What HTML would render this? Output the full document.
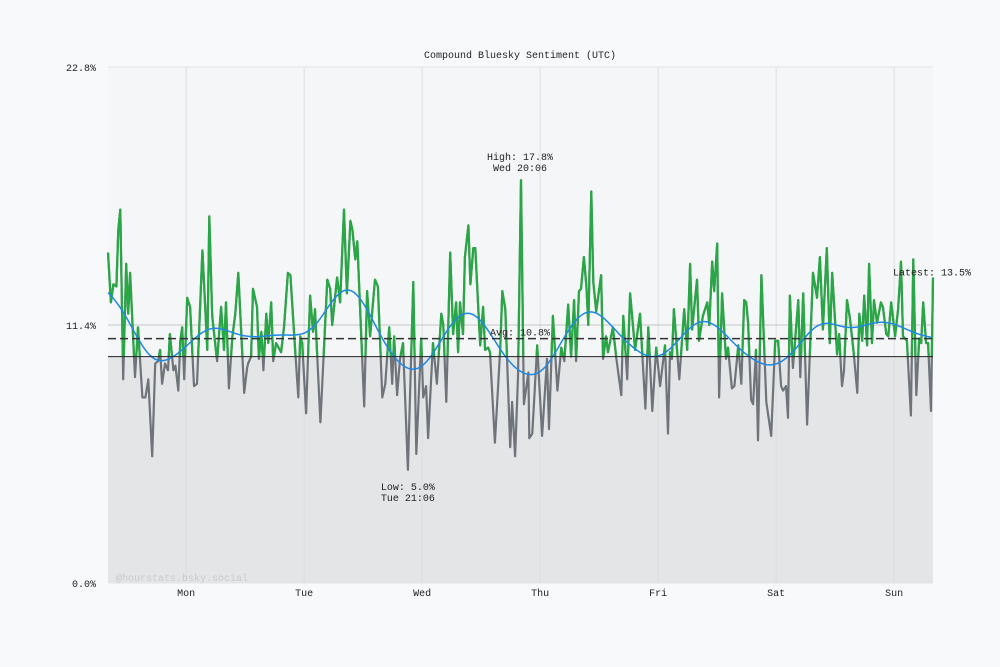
<!DOCTYPE html>
<html><head><meta charset="utf-8">
<style>
html,body{margin:0;padding:0;background:#f8f9fa;}
svg{display:block;font-family:"Liberation Mono",monospace;}
</style></head>
<body>
<svg id="chart" width="1000" height="667" viewBox="0 0 1000 667" xmlns="http://www.w3.org/2000/svg">
<rect x="0" y="0" width="1000" height="667" fill="#f8f9fa"/>
<text x="520" y="58" text-anchor="middle" font-size="10" fill="#222">Compound Bluesky Sentiment (UTC)</text>
<g id="grid"></g>
<g id="marks"></g>
<g id="annot"></g>
</svg>
<script>
// time in hours since Mon 00:00 UTC, value in %
const times = [-15.9,-15.3,-14.8,-14.2,-13.8,-13.4,-12.8,-12.2,-11.8,-11.4,-10.4,-9.8,-8.9,-8.3,-7.7,-6.9,-6.3,-5.7,-5.3,-4.9,-4.3,-3.7,-3.3,-2.6,-2.2,-1.6,-1.2,-0.8,-0.4,0.2,0.8,1.6,2.2,3.3,4.3,4.7,5.3,6.3,7.1,7.7,8.1,8.7,9.4,10.0,10.6,11.8,12.4,
12.6,13.2,13.6,14.4,14.8,15.3,15.7,16.3,16.7,17.3,17.7,18.3,19.3,19.9,20.7,21.2,22.2,22.8,23.2,23.6,24.4,25.2,25.8,26.2,27.3,28.7,29.3,29.7,30.7,31.3,32.1,32.7,33.4,33.8,34.4,34.8,36.2,36.8,37.4,38.4,39.0,39.9,40.5,41.3,
41.9,42.3,42.9,43.5,44.1,45.1,46.2,46.8,47.8,48.2,48.8,49.2,50.2,51.0,51.9,52.3,52.9,53.7,54.3,54.9,55.3,55.7,56.3,56.7,57.4,57.8,58.4,58.8,59.4,59.8,60.4,60.8,61.4,61.8,62.8,63.9,64.3,64.9,65.9,66.3,66.9,67.5,68.1,68.7,69.6,
69.8,70.4,71.4,72.4,73.4,73.8,74.6,75.5,76.3,76.9,77.7,78.3,78.9,79.3,79.9,80.3,80.9,81.4,81.8,82.4,82.8,83.4,84.4,84.8,85.4,85.8,86.8,87.5,88.5,88.9,89.7,90.3,91.3,92.3,93.4,94.0,94.8,95.6,96.4,97.4,98.0,
98.4,98.8,99.2,100.3,101.3,101.9,102.5,102.9,103.9,104.3,105.1,106.0,106.4,107.0,107.4,108.0,108.4,109.0,109.8,110.2,111.0,111.5,112.3,112.9,113.5,113.9,114.3,114.9,115.3,115.9,116.3,117.0,118.0,119.0,119.8,120.4,121.0,121.4,122.0,122.4,122.8,123.4,124.5,124.9,125.5,
126.3,127.5,128.3,128.9,129.5,130.3,130.9,131.4,132.4,132.8,133.4,133.8,134.4,135.0,135.7,136.5,136.9,137.5,137.9,138.5,138.9,139.5,139.9,140.5,141.3,141.7,142.4,142.8,143.4,144.2,144.8,145.4,145.8,146.6,147.4,147.9,148.5,149.1,149.5,149.9,150.5,150.9,151.5,151.9];
const values = [14.6,12.4,13.2,13.1,15.6,16.5,9.0,14.1,11.9,13.7,9.1,11.3,8.2,8.2,9.0,5.6,9.7,9.8,10.3,8.8,9.7,9.4,11.0,9.4,9.6,8.5,10.7,11.3,9.0,12.6,12.2,8.7,8.8,14.7,10.3,16.2,11.8,9.8,12.2,10.3,12.4,8.6,10.9,11.9,13.7,8.4,9.5,
9.7,10.0,13.0,12.2,9.9,11.1,9.4,11.9,10.6,12.4,9.8,10.6,10.2,11.3,13.7,13.6,10.2,8.2,10.9,10.6,7.5,12.7,11.1,12.1,7.1,13.4,13.0,11.4,13.5,12.4,16.5,12.8,16.0,15.6,14.3,15.1,7.8,12.9,10.9,13.4,13.1,8.2,8.8,11.3,
8.8,10.9,8.3,9.9,10.6,5.0,13.3,5.7,10.8,8.2,8.7,6.4,10.6,8.8,11.9,11.4,8.0,14.6,11.0,12.4,10.2,12.4,11.0,14.4,15.8,13.2,14.8,14.8,12.2,10.5,12.2,10.3,10.4,10.2,6.2,10.4,12.9,12.1,6.0,8.0,5.6,9.1,17.8,7.9,9.3,
6.4,6.6,10.5,6.5,9.9,6.8,11.8,8.5,10.4,9.8,12.3,10.0,12.5,9.8,12.9,13.0,14.4,13.1,11.4,17.3,13.3,12.0,13.6,9.9,10.9,10.2,11.3,9.9,8.3,11.8,9.0,12.8,10.3,11.9,7.7,11.3,7.6,10.4,8.7,10.5,6.6,
10.2,9.9,12.1,9.0,12.1,10.3,14.1,11.2,13.4,10.7,11.8,12.4,11.4,14.2,12.9,15.0,8.2,12.8,9.9,10.4,8.6,8.7,10.5,8.8,12.5,12.4,11.5,8.1,7.9,10.3,6.3,13.6,8.0,6.5,10.7,10.7,8.7,8.5,8.7,7.3,12.7,9.5,12.5,9.1,12.8,
7.0,13.7,12.6,14.4,11.2,14.8,10.6,13.7,10.1,11.0,8.7,9.4,12.5,11.7,10.3,8.4,11.9,10.7,12.7,10.5,14.1,10.6,12.5,11.5,12.4,12.2,11.0,10.9,12.4,10.9,12.1,14.2,10.9,10.7,7.4,14.3,8.3,10.8,10.6,12.4,10.6,10.6,7.6,13.5];
const dayLabels = ["Mon","Tue","Wed","Thu","Fri","Sat","Sun"];
const yTicks = [0, 11.4, 22.8];
const yTickLabels = ["0.0%","11.4%","22.8%"];
const avgValue = 10.8;
const baseline = 10.0;
const highValue = 17.8, highTime = 68.1, highLabel = "Wed 20:06";
const lowValue = 5.0, lowTime = 45.1, lowLabel = "Tue 21:06";
const latestValue = 13.5;

const X0=108, X1=933, Y0=583, Y1=67;
const tMin=-15.9, tMax=151.9, vMax=22.8;
const xs = t => X0 + (t - tMin) / (tMax - tMin) * (X1 - X0);
const ys = v => Y0 - v / vMax * (Y0 - Y1);
const NS="http://www.w3.org/2000/svg";
function mk(tag, attrs, parent){const e=document.createElementNS(NS,tag);for(const k in attrs)e.setAttribute(k,attrs[k]);parent.appendChild(e);return e;}
const grid=document.getElementById('grid'), marks=document.getElementById('marks'), annot=document.getElementById('annot');

let r=mk('rect',{x:X0,y:Y1,width:X1-X0,height:Y0-Y1,fill:'#f5f6f8'},grid);


let f=mk('rect',{x:X0,y:ys(baseline),width:X1-X0,height:Y0-ys(baseline),fill:'#e4e5e7'},grid);



dayLabels.forEach((d,i)=>{
  const x=xs(i*24);
  const l=mk('line',{x1:x,x2:x,y1:Y1,y2:Y0,stroke:'#dcdde0','stroke-width':1},grid);
  
  
  const t=mk('text',{x:x,y:Y0+13,'text-anchor':'middle','font-size':10,fill:'#222'},grid);
  t.textContent=d;
  
  
});
yTicks.forEach((v,i)=>{
  const y=ys(v);
  const l=mk('line',{x1:X0,x2:X1,y1:y,y2:y,stroke:i==1?'#c4c5c8':'#e2e3e6','stroke-width':1},grid);
  
  
  const t=mk('text',{x:96,y:y+4,'text-anchor':'end','font-size':10,fill:'#222'},grid);
  t.textContent=yTickLabels[i];
  
  
});
const wm=mk('text',{x:116,y:Y0-2,'font-size':10,fill:'#c9cacd'},grid);
wm.textContent='@hourstats.bsky.social';



const defs=mk('defs',{},marks);
const cpA=mk('clipPath',{id:'above'},defs); mk('rect',{x:0,y:0,width:1000,height:ys(baseline)},cpA);
const pts=times.map((t,i)=>xs(t).toFixed(1)+','+ys(values[i]).toFixed(1)).join(' ');
const gl=mk('polyline',{points:pts,fill:'none',stroke:'#6f747b','stroke-width':2.2,'stroke-linejoin':'round'},marks);


const gr=mk('polyline',{points:pts,fill:'none',stroke:'#28a745','stroke-width':2.2,'stroke-linejoin':'round','clip-path':'url(#above)'},marks);



const sm=[];
for(let t=tMin;t<=tMax+0.001;t+=0.5){
  let sw=0,s=0;
  for(let i=0;i<times.length;i++){const d=(times[i]-t)/4;const w=Math.exp(-0.5*d*d);sw+=w;s+=w*values[i];}
  sm.push(xs(t).toFixed(1)+','+ys(s/sw).toFixed(1));
}
const tr=mk('polyline',{points:sm.join(' '),fill:'none',stroke:'#1e88e5','stroke-width':1.5},marks);



const al=mk('line',{x1:X0,x2:X1,y1:ys(avgValue),y2:ys(avgValue),stroke:'#333','stroke-width':1.5,'stroke-dasharray':'8,4'},annot);


const bl=mk('line',{x1:X0,x2:X1,y1:ys(baseline),y2:ys(baseline),stroke:'#222','stroke-width':1},annot);



function label(x,y,lines,name,anchor){
  const t=mk('text',{x:x,y:y,'text-anchor':anchor||'middle','font-size':10,fill:'#222'},annot);
  lines.forEach((s,i)=>{const ts=mk('tspan',{x:x,dy:i?11:0},t);ts.textContent=s;});
  
  
}
label(520,ys(avgValue)-3,['Avg: '+avgValue.toFixed(1)+'%'],'average-label');
label(xs(highTime)-1,ys(highValue)-20,['High: '+highValue.toFixed(1)+'%',highLabel],'high-label');
label(xs(lowTime)-0,ys(lowValue)+20,['Low: '+lowValue.toFixed(1)+'%',lowLabel],'low-label');
label(971,ys(latestValue)-2,['Latest: '+latestValue.toFixed(1)+'%'],'latest-label','end');
</script>
</body></html>
